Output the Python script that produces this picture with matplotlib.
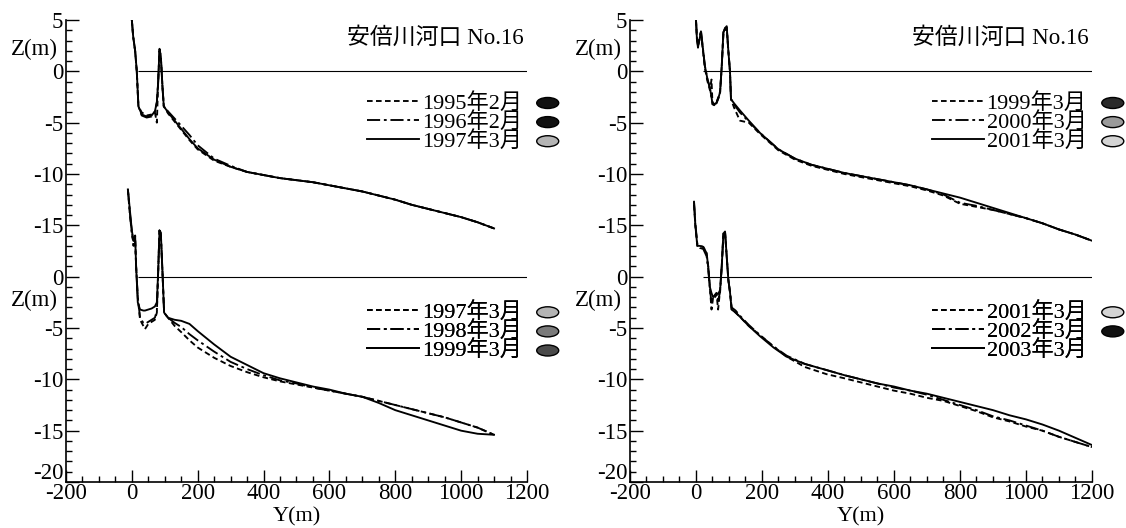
import numpy as np
import matplotlib
matplotlib.use("Agg")
import matplotlib.pyplot as plt
import matplotlib.transforms as mtransforms
from matplotlib.ticker import FuncFormatter, MultipleLocator
from matplotlib.patches import Ellipse

plt.rcParams['font.family'] = ['Liberation Serif', 'Noto Sans CJK JP']
plt.rcParams['axes.unicode_minus'] = False

title = "安倍川河口 No.16"
shift = 20          # lower profile drawn 20 m below the upper one
zero_span = (20, 1200)

# ---- left panel, upper: 1995-1997 ----
x_tl = [0, 4, 10, 15, 20, 30, 45, 60, 70, 76, 80, 84, 88, 93, 97, 110, 130, 150, 175, 200,
        250, 300, 350, 400, 450, 500, 550, 600, 650, 700, 750, 800, 850, 900, 950, 1000, 1050, 1100]
z_1995a = [5.0, 3.4, 2.0, 0.0, -3.4, -4.0, -4.3, -4.2, -4.0, -5.0, -1.0, 2.0, 1.5, -1.5, -3.4, -4.1, -4.9, -5.7,
           -6.7, -7.6, -8.7, -9.3, -9.8, -10.1, -10.4, -10.6, -10.8, -11.1, -11.4, -11.7, -12.1, -12.5,
           -13.0, -13.4, -13.8, -14.2, -14.7, -15.3]
z_1996a = [5.0, 3.4, 2.0, 0.0, -3.4, -4.3, -4.5, -4.4, -3.9, -3.0, -1.0, 2.0, 1.5, -1.5, -3.4, -3.9, -4.6, -5.3,
           -6.2, -7.2, -8.5, -9.2, -9.8, -10.1, -10.4, -10.6, -10.8, -11.1, -11.4, -11.7, -12.1, -12.5,
           -13.0, -13.4, -13.8, -14.2, -14.7, -15.3]
z_1997a = [5.0, 3.4, 2.0, 0.0, -3.4, -4.2, -4.4, -4.3, -3.9, -3.0, -1.0, 2.2, 1.5, -1.5, -3.4, -4.0, -4.8, -5.6,
           -6.6, -7.5, -8.6, -9.3, -9.8, -10.1, -10.4, -10.6, -10.8, -11.1, -11.4, -11.7, -12.1, -12.5,
           -13.0, -13.4, -13.8, -14.2, -14.7, -15.3]

# ---- left panel, lower: 1997-1999 ----
x_bl = [-12, -6, 0, 5, 10, 13, 18, 25, 35, 40, 50, 60, 70, 76, 80, 84, 88, 93, 98, 110, 130, 150, 175, 200,
        250, 300, 350, 400, 450, 500, 550, 600, 650, 700, 750, 800, 850, 900, 950, 1000, 1050, 1100]
z_1997b = [8.5, 6.0, 4.5, 3.0, 4.0, 1.0, -2.0, -4.2, -4.8, -5.1, -4.6, -4.4, -4.2, -3.5, 0.5, 4.5, 4.0, 0.5,
           -3.5, -4.0, -4.8, -5.4, -6.2, -6.9, -7.9, -8.7, -9.3, -9.8, -10.2, -10.5, -10.8, -11.1, -11.4,
           -11.7, -12.1, -12.5, -12.9, -13.3, -13.7, -14.2, -14.7, -15.4]
z_1998b = [8.5, 6.3, 4.0, 3.5, 3.5, 1.0, -2.0, -4.0, -4.5, -4.6, -4.4, -4.2, -4.0, -3.3, 0.5, 4.5, 4.2, 0.5,
           -3.5, -4.0, -4.5, -4.9, -5.6, -6.2, -7.3, -8.3, -9.0, -9.6, -10.1, -10.4, -10.8, -11.1, -11.4,
           -11.7, -12.1, -12.5, -12.9, -13.3, -13.7, -14.2, -14.7, -15.4]
z_1999b = [8.5, 6.5, 4.5, 3.5, 4.0, 1.0, -2.5, -3.2, -3.3, -3.3, -3.2, -3.1, -2.9, -2.5, 0.5, 4.5, 4.3, 0.5,
           -3.5, -4.0, -4.2, -4.3, -4.6, -5.3, -6.6, -7.8, -8.6, -9.4, -9.9, -10.3, -10.7, -11.0, -11.4,
           -11.7, -12.3, -13.0, -13.5, -14.0, -14.5, -15.0, -15.3, -15.4]

# ---- right panel, upper: 1999-2001 ----
x_tr = [0, 3, 6, 10, 15, 20, 27, 35, 42, 47, 50, 55, 62, 68, 73, 78, 83, 88, 93, 98, 103, 106, 115, 133,
        160, 194, 250, 300, 350, 400, 450, 500, 550, 600, 650, 700, 750, 800, 850, 900, 950, 1000, 1050,
        1100, 1150, 1200]
z_1999c = [5.0, 3.0, 2.5, 3.0, 3.6, 2.3, 0.3, -1.0, -1.8, -0.8, -3.2, -3.3, -3.0, -2.5, -2.0, 0.5, 3.6, 4.0,
           4.3, 2.0, 0.0, -2.7, -3.5, -4.8, -5.0, -6.1, -7.7, -8.6, -9.2, -9.6, -10.0, -10.3, -10.6, -10.9,
           -11.2, -11.6, -12.1, -12.9, -13.2, -13.5, -13.9, -14.3, -14.8, -15.4, -15.9, -16.5]
z_2000c = [5.0, 3.2, 2.3, 3.2, 4.0, 2.5, 0.5, -0.8, -1.6, -2.6, -3.0, -3.2, -3.1, -2.6, -2.1, 0.5, 3.8, 4.2,
           4.4, 2.0, 0.0, -2.7, -3.2, -4.0, -4.9, -6.0, -7.6, -8.5, -9.1, -9.5, -9.9, -10.2, -10.5, -10.8,
           -11.1, -11.5, -12.0, -12.8, -13.1, -13.5, -13.9, -14.3, -14.8, -15.4, -15.9, -16.5]
z_2001c = [5.0, 3.0, 2.5, 3.0, 3.9, 2.5, 0.5, -0.8, -1.6, -2.5, -3.2, -3.2, -3.1, -2.6, -2.0, 0.5, 3.8, 4.2,
           4.4, 2.0, 0.0, -2.7, -3.1, -3.8, -4.8, -6.0, -7.6, -8.5, -9.1, -9.5, -9.9, -10.2, -10.5, -10.8,
           -11.1, -11.5, -11.9, -12.3, -12.8, -13.3, -13.8, -14.3, -14.8, -15.4, -15.9, -16.5]

# ---- right panel, lower: 2001-2003 ----
x_br = [-6, -2, 4, 12, 22, 32, 37, 42, 47, 52, 57, 62, 67, 73, 78, 83, 88, 93, 98, 103, 108, 120, 133, 160,
        194, 235, 275, 330, 396, 450, 500, 550, 600, 650, 700, 750, 800, 850, 900, 950, 1000, 1050, 1100,
        1150, 1200]
z_2001d = [7.0, 5.0, 3.0, 3.0, 2.9, 2.3, 1.0, -1.0, -3.2, -2.0, -1.8, -1.6, -3.2, -1.3, 1.0, 4.2, 4.4, 2.0,
           -0.3, -1.5, -3.2, -3.5, -3.9, -4.8, -5.7, -6.8, -7.8, -8.8, -9.5, -9.9, -10.3, -10.7, -11.1,
           -11.4, -11.8, -12.1, -12.6, -13.1, -13.7, -14.1, -14.6, -15.0, -15.6, -16.1, -16.6]
z_2002d = [7.3, 5.2, 3.2, 2.8, 2.7, 2.0, 0.8, -1.2, -2.5, -2.2, -2.0, -1.8, -2.3, -1.5, 1.0, 4.0, 4.3, 2.0,
           -0.3, -1.5, -3.0, -3.3, -3.8, -4.7, -5.7, -6.8, -7.7, -8.5, -9.1, -9.6, -10.0, -10.4, -10.8,
           -11.1, -11.5, -12.0, -12.5, -13.0, -13.6, -14.0, -14.5, -15.0, -15.6, -16.1, -16.6]
z_2003d = [7.3, 5.0, 3.0, 3.0, 2.9, 2.3, 1.0, -1.0, -1.6, -2.0, -1.8, -1.6, -1.7, -1.3, 1.0, 4.2, 4.4, 2.0,
           -0.3, -1.5, -3.2, -3.5, -3.9, -4.8, -5.8, -6.9, -7.8, -8.5, -9.1, -9.6, -10.0, -10.4, -10.7,
           -11.1, -11.4, -11.8, -12.2, -12.6, -13.0, -13.5, -13.9, -14.4, -15.0, -15.7, -16.4]

dashed = (0, (3, 1.8))
dashdot = (0, (7, 2, 1.5, 2))
styles = [dashed, dashdot, '-']

panels = [
    dict(top=(x_tl, [z_1995a, z_1996a, z_1997a], ['1995年2月', '1996年2月', '1997年3月'],
              ['#111111', '#111111', '#b4b4b4']),
         bot=(x_bl, [z_1997b, z_1998b, z_1999b], ['1997年3月', '1998年3月', '1999年3月'],
              ['#b4b4b4', '#7a7a7a', '#4a4a4a'])),
    dict(top=(x_tr, [z_1999c, z_2000c, z_2001c], ['1999年3月', '2000年3月', '2001年3月'],
              ['#2a2a2a', '#9a9a9a', '#d4d4d4']),
         bot=(x_br, [z_2001d, z_2002d, z_2003d], ['2001年3月', '2002年3月', '2003年3月'],
              ['#d4d4d4', '#111111', None])),
]

fig = plt.figure(figsize=(11.26, 5.28), dpi=100)
axes_pos = [[0.0586, 0.0871, 0.4094, 0.875], [0.5595, 0.0871, 0.4103, 0.875]]

legends = []
all_axes = []
for pos, pan in zip(axes_pos, panels):
    ax = fig.add_axes(pos)
    all_axes.append(ax)
    ax.set_xlim(-200, 1200)
    ax.set_ylim(-40, 5)
    for sp in ['top', 'right']:
        ax.spines[sp].set_visible(False)
    ax.spines['left'].set_linewidth(1.2)
    ax.spines['bottom'].set_linewidth(1.2)

    ax.hlines([0, -shift], zero_span[0], zero_span[1], color='black', lw=0.8)

    for key, off, ly in [('top', 0, 0.843), ('bot', shift, 0.39)]:
        xs, zs, labels, ecolors = pan[key]
        handles = []
        for z, ls, lab in zip(zs, styles, labels):
            h, = ax.plot(xs, np.array(z) - off, color='black', lw=1.35, linestyle=ls, label=lab)
            handles.append(h)
        leg = ax.legend(handles=handles, loc='upper left', bbox_to_anchor=(0.653, ly),
                        frameon=False, fontsize=16, handlelength=2.35, handletextpad=0.12,
                        labelspacing=-0.08, borderpad=0, borderaxespad=0)
        ax.add_artist(leg)
        legends.append((ax, leg, ecolors))

    ax.text(0.992, 0.962, title, transform=ax.transAxes, ha='right', va='center', fontsize=16.5)
    for zc in [2.1, -shift - 2.3]:
        ax.text(-0.018, zc, 'Z(m)', transform=ax.get_yaxis_transform(), ha='right', va='center',
                fontsize=16.5)
    ax.set_xlabel('Y(m)', fontsize=16, labelpad=2)

    ax.xaxis.set_major_locator(MultipleLocator(200))
    ax.xaxis.set_minor_locator(MultipleLocator(50))
    ax.yaxis.set_major_locator(MultipleLocator(5))
    ax.yaxis.set_minor_locator(MultipleLocator(1))
    ax.yaxis.set_major_formatter(FuncFormatter(
        lambda v, p: f"{v:g}" if v > -17.5 else f"{v + shift:g}"))
    ax.tick_params(which='major', direction='in', length=9, width=1, labelsize=16.5, pad=2)
    ax.tick_params(axis='x', which='major', pad=1)
    ax.tick_params(which='minor', direction='in', length=4, width=1)

fig.canvas.draw()
# lowest y label sits just above its tick so it clears the "-200" below
nudge = mtransforms.ScaledTranslation(0, -1.5 / 72, fig.dpi_scale_trans)
for ax in all_axes:
    for tick in ax.yaxis.get_major_ticks():
        if abs(tick.get_loc() + 40) < 1e-6:
            tick.label1.set_verticalalignment('bottom')
            tick.label1.set_transform(tick.label1.get_transform() + nudge)

for ax, leg, ecolors in legends:
    inv = ax.transAxes.inverted()
    for txt, fc in zip(leg.get_texts(), ecolors):
        if fc is None:
            continue
        bb = txt.get_window_extent()
        yc = inv.transform((0, (bb.y0 + bb.y1) / 2))[1]
        w = 22 / ax.bbox.width
        h = 11 / ax.bbox.height
        ax.add_patch(Ellipse((1.045, yc), w, h, transform=ax.transAxes, facecolor=fc,
                             edgecolor='black', lw=1, clip_on=False))

fig.savefig('out.png', dpi=100)
